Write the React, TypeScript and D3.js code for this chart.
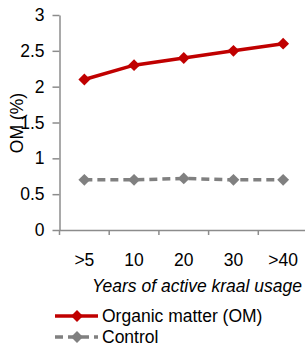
import React, { useRef, useEffect } from 'react';
import * as d3 from 'd3';

const years = ['>5', '10', '20', '30', '>40'];
const organicMatter = [2.1, 2.3, 2.4, 2.5, 2.6];
const control = [0.7, 0.7, 0.72, 0.7, 0.7];
const yTicks = [0, 0.5, 1, 1.5, 2, 2.5, 3];

const App = () => {
  const svgRef = useRef<SVGSVGElement>(null);

  useEffect(() => {
    const width = 305;
    const height = 350;
    const font = '"Liberation Sans", Arial, sans-serif';
    const fontSize = '17.5px';

    const svg = d3.select(svgRef.current);
    svg.selectAll('*').remove();
    svg.attr('width', width).attr('height', height).style('font-family', font);

    // plot area
    const left = 59.5;
    const right = 308;
    const top = 15;
    const bottom = 230;

    const x = d3.scaleBand().domain(years).range([left, right]);
    const y = d3.scaleLinear().domain([0, 3]).range([bottom, top]);
    const cx = (d: string) => (x(d) as number) + x.bandwidth() / 2;

    const axisColor = '#8c8c8c';

    // y axis
    const yAxis = svg
      .append('g')
      .attr('transform', `translate(${left},0)`)
      .call(
        d3
          .axisLeft(y)
          .tickValues(yTicks)
          .tickFormat((d) => String(d))
          .tickSize(7)
          .tickSizeOuter(0)
          .tickPadding(8)
      );
    yAxis.select('.domain').attr('stroke', axisColor).attr('stroke-width', 1.5);
    yAxis.selectAll('.tick line').attr('stroke', axisColor).attr('stroke-width', 1.5);
    yAxis.selectAll('.tick text').attr('fill', '#000').style('font-size', fontSize).style('font-family', font);

    // x axis
    const xAxis = svg
      .append('g')
      .attr('transform', `translate(0,${bottom})`)
      .call(d3.axisBottom(x).tickSize(0).tickPadding(24));
    xAxis.select('.domain').attr('stroke', axisColor).attr('stroke-width', 1.5);
    xAxis.selectAll('.tick text').attr('fill', '#000').style('font-size', fontSize).style('font-family', font);

    // category separators
    svg
      .append('g')
      .selectAll('line')
      .data(years)
      .join('line')
      .attr('x1', (d) => x(d) as number)
      .attr('x2', (d) => x(d) as number)
      .attr('y1', bottom)
      .attr('y2', bottom + 5)
      .attr('stroke', axisColor)
      .attr('stroke-width', 1.5);

    // axis titles
    svg
      .append('text')
      .attr('x', 302)
      .attr('y', 292)
      .attr('text-anchor', 'end')
      .style('font-style', 'italic')
      .style('font-size', fontSize)
      .text('Years of active kraal usage');

    svg
      .append('text')
      .attr('transform', `translate(23,123) rotate(-90)`)
      .attr('text-anchor', 'middle')
      .style('font-size', fontSize)
      .text('OM (%)');

    const line = d3
      .line<number>()
      .x((_, i) => cx(years[i]))
      .y((d) => y(d));

    const diamond = d3.symbol().type(d3.symbolDiamond2).size(90);

    const series = [
      { name: 'Organic matter (OM)', values: organicMatter, color: '#c00000', dash: null },
      { name: 'Control', values: control, color: '#808080', dash: '8 5' },
    ];

    series.forEach((s) => {
      svg
        .append('path')
        .datum(s.values)
        .attr('fill', 'none')
        .attr('stroke', s.color)
        .attr('stroke-width', 3.5)
        .attr('stroke-dasharray', s.dash)
        .attr('d', line);

      svg
        .append('g')
        .selectAll('path')
        .data(s.values)
        .join('path')
        .attr('transform', (d, i) => `translate(${cx(years[i])},${y(d)})`)
        .attr('d', diamond)
        .attr('fill', s.color);
    });

    // legend
    const legend = svg.append('g');
    series.forEach((s, i) => {
      const ly = 316 + i * 21;
      legend
        .append('line')
        .attr('x1', 55)
        .attr('x2', 98)
        .attr('y1', ly)
        .attr('y2', ly)
        .attr('stroke', s.color)
        .attr('stroke-width', 3.5)
        .attr('stroke-dasharray', s.dash ? '8 5' : null);
      legend
        .append('path')
        .attr('transform', `translate(77,${ly})`)
        .attr('d', diamond)
        .attr('fill', s.color);
      legend
        .append('text')
        .attr('x', 102)
        .attr('y', ly + 6)
        .style('font-size', fontSize)
        .text(s.name);
    });
  }, []);

  return <svg ref={svgRef} style={{ position: 'absolute', left: 0, top: 0 }}></svg>;
};

export default App;
